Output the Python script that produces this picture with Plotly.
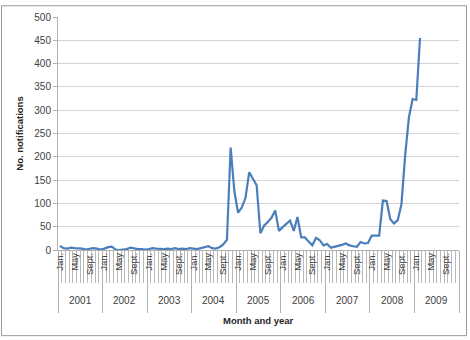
import plotly.graph_objects as go

years = ["2001", "2002", "2003", "2004", "2005", "2006", "2007", "2008", "2009"]
month_labels = ["Jan.", "May", "Sept."]
month_label_idx = [0, 4, 8]

# monthly notifications, Jan 2001 .. Feb 2009
notifications = [
    9, 4, 3, 5, 4, 4, 3, 1, 2, 4, 3, 1,            # 2001
    3, 6, 7, 1, 0, 1, 2, 5, 3, 2, 2, 1,            # 2002
    2, 4, 3, 2, 2, 3, 2, 4, 2, 3, 2, 4,            # 2003
    3, 2, 4, 6, 8, 4, 3, 6, 12, 22, 220, 126,      # 2004
    80, 91, 112, 167, 154, 139, 36, 52, 60, 69, 85, 41,   # 2005
    49, 56, 63, 41, 71, 27, 27, 18, 10, 26, 21, 10,       # 2006
    13, 5, 7, 8, 11, 14, 10, 8, 7, 17, 14, 15,            # 2007
    31, 31, 31, 106, 105, 66, 57, 64, 98, 203, 284, 324, # 2008
    322, 455,                                             # 2009
]

n_months = len(years) * 12
xs = [i + 0.5 for i in range(len(notifications))]

month_tickvals = [y * 12 + m + 0.5 for y in range(len(years)) for m in month_label_idx]
month_ticktext = [month_labels[k] for y in range(len(years)) for k in range(len(month_labels))]

W, H = 470, 340
ml, mr, mt, mb = 58, 11, 12, 90
pw, ph = W - ml - mr, H - mt - mb

FONT = "Liberation Sans"
TXT = "#404040"

fig = go.Figure()
fig.add_trace(go.Scatter(
    x=xs, y=notifications, mode="lines",
    line=dict(color="#4a7ebb", width=2.2),
    hoverinfo="skip", showlegend=False,
))
fig.add_trace(go.Scatter(x=[0, n_months], y=[None, None], xaxis="x2",
                         showlegend=False, hoverinfo="skip"))

fig.update_layout(
    width=W, height=H,
    margin=dict(l=ml, r=mr, t=mt, b=mb),
    paper_bgcolor="white", plot_bgcolor="white",
    font=dict(family=FONT, size=10, color=TXT),
    xaxis=dict(
        range=[0, n_months], tickmode="array",
        tickvals=list(range(0, n_months + 1, 12)), ticktext=[""] * (len(years) + 1),
        ticks="outside", ticklen=62, tickcolor="#b0b0b0", tickwidth=1,
        minor=dict(tickmode="linear", tick0=0, dtick=1, ticks="outside",
                   ticklen=32, tickcolor="#b8b8b8", tickwidth=1),
        showgrid=False, zeroline=False, showline=True, linecolor="#b0b0b0",
        fixedrange=True,
    ),
    xaxis2=dict(
        overlaying="x", anchor="y", side="bottom", range=[0, n_months],
        tickmode="array", tickvals=month_tickvals, ticktext=month_ticktext,
        tickangle=-90, ticks="", showgrid=False, zeroline=False, showline=False,
        tickfont=dict(size=9.5, color=TXT, family=FONT),
    ),
    yaxis=dict(
        range=[0, 500], dtick=50, ticks="outside", ticklen=4, tickcolor="#b0b0b0",
        showgrid=True, gridcolor="#d4d4d4", zeroline=False,
        showline=True, linecolor="#b0b0b0",
        tickfont=dict(size=10, color=TXT, family=FONT),
        title=dict(text="<b>No. notifications</b>", font=dict(size=9.5, color="#262626"),
                   standoff=8),
    ),
)

# year labels below month labels
for k, yr in enumerate(years):
    fig.add_annotation(x=k * 12 + 6, xref="x", y=(250 - 302) / ph, yref="paper",
                       text=yr, showarrow=False, yanchor="middle",
                       font=dict(size=10, color=TXT, family=FONT))

# x axis title
fig.add_annotation(x=0.5, xref="paper", y=(250 - 322) / ph, yref="paper",
                   text="<b>Month and year</b>", showarrow=False, yanchor="middle",
                   font=dict(size=9.5, color="#262626", family=FONT))

# outer chart border
fig.add_shape(type="rect", xref="paper", yref="paper",
              x0=(-ml + 1.5) / pw, x1=1 + (mr - 3.5) / pw,
              y0=(-mb + 2.5) / ph, y1=1 + (mt - 0.5) / ph,
              line=dict(color="#9a9a9a", width=1), fillcolor="rgba(0,0,0,0)", layer="above")

fig.write_html("out.html")
